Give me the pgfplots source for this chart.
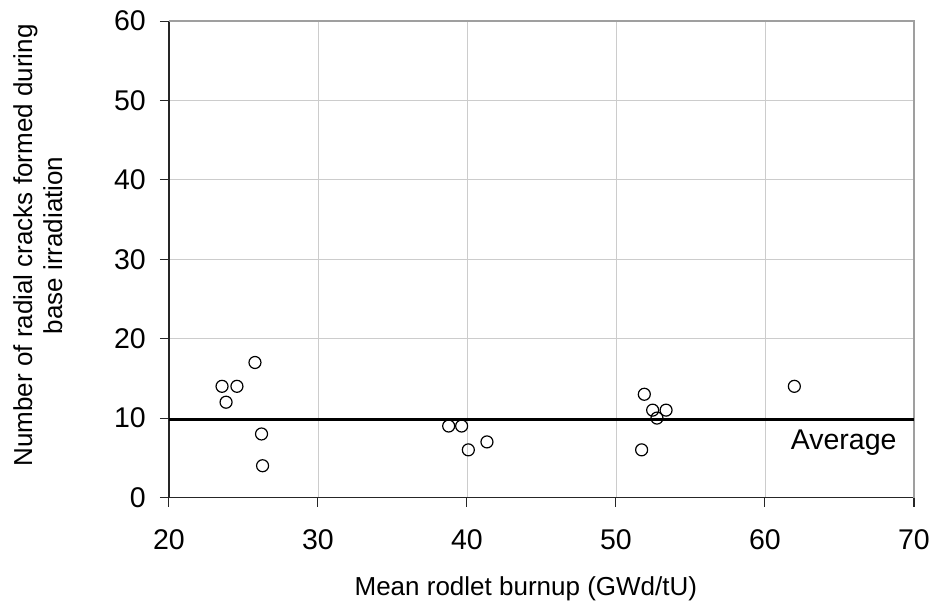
\documentclass[border=0pt]{standalone}
\usepackage{fontspec}
\setmainfont{Liberation Sans}
\usepackage{pgfplots}
\pgfplotsset{compat=1.18}
\begin{document}
\fontsize{26}{30}\selectfont
\begin{tikzpicture}
\useasboundingbox (-169pt,-108.5pt) rectangle (766pt,497.5pt);
\begin{axis}[
  scale only axis,
  width=745pt, height=476.5pt,
  xmin=20, xmax=70, ymin=0, ymax=60,
  xtick={20,30,...,70}, ytick={0,10,...,60},
  axis x line*=bottom, axis y line*=left,
  axis line style={black!85, line width=1.2pt},
  tick align=outside, major tick length=9pt,
  tick style={black!85, line width=1pt},
  grid=major,
  grid style={gray!40, line width=0.8pt},
  /pgf/number format/assume math mode=true,
  ticklabel style={font=\fontsize{28.5}{32}\selectfont},
  yticklabel style={inner sep=0pt, xshift=-14pt},
  xticklabel style={inner sep=0pt, yshift=-23pt},
  xlabel={Mean rodlet burnup (GWd/tU)},
  ylabel={Number of radial cracks formed during\\base irradiation},
  every axis x label/.style={at={(axis description cs:0.479,-0.2065)}, anchor=base, inner sep=0pt},
  every axis y label/.style={at={(axis description cs:-0.2094,0.529)}, anchor=north, rotate=90, align=center, inner sep=0pt, font=\fontsize{26}{30}\selectfont},
  clip=false,
]
\draw[gray!75, line width=1.5pt] (rel axis cs:0,1) -- (rel axis cs:1,1) -- (rel axis cs:1,0);
\addplot[black, line width=2.6pt, no marks] coordinates {(20,9.85) (70,9.85)};
\addplot[only marks, mark=o, mark size=6pt, mark options={black, fill=white, line width=1.2pt}] coordinates {
(23.56,14) (24.56,14) (23.83,12) (25.77,17) (26.21,8) (26.28,4)
(38.77,9) (39.64,9) (40.09,6) (41.34,7)
(51.9,13) (52.46,11) (53.36,11) (52.75,10) (51.72,6)
(61.97,14)
};
\node[anchor=base east, inner sep=0pt, font=\fontsize{28.5}{32}\selectfont] at (axis cs:68.84,6.1) {Average};
\end{axis}
\end{tikzpicture}
\end{document}
